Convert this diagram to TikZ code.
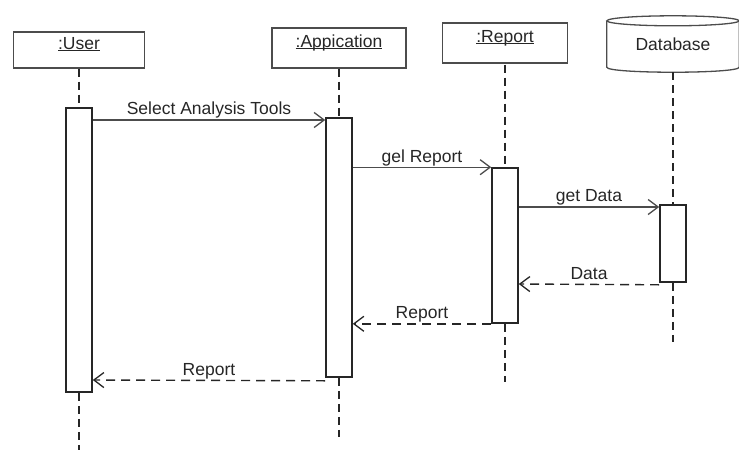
\documentclass[tikz,border=0pt]{standalone}
\usepackage{fontspec}
\setmainfont{Liberation Sans}
\usetikzlibrary{arrows.meta}
\begin{document}
\begin{tikzpicture}[x=1pt,y=-1pt,
  font=\fontsize{17.5}{20}\selectfont,
  every node/.style={text=black!85},
  obj/.style={draw=black!70, line width=1.3pt, inner sep=0pt},
  act/.style={draw=black!85, fill=white, line width=1.6pt, minimum width=26pt, inner sep=0pt},
  life/.style={draw=black!85, line width=2pt, dash pattern=on 8pt off 5pt},
  call/.style={draw=black!70, line width=1.1pt,
    -{Straight Barb[length=10pt,width=15pt,line width=1.3pt]}},
  reply/.style={call, draw=black!85, line width=1.4pt, dash pattern=on 9pt off 6pt},
  lbl/.style={midway, anchor=south, inner sep=0pt, yshift=1pt,
    text height=12.5pt, text depth=3.5pt}
]
\useasboundingbox (0,0) rectangle (739,450);

% participants
\node[obj, minimum width=131pt, minimum height=36pt] (user) at (79,50)
  {\underline{\smash{:User}}};
\node[obj, minimum width=134pt, minimum height=40pt] (app) at (339,48)
  {\underline{\smash{:Appication}}};
\node[obj, minimum width=125pt, minimum height=40pt] (rep) at (505,43)
  {\underline{\smash{:Report}}};
\node[inner sep=0pt, minimum width=132pt, minimum height=46pt] (db) at (673,44) {Database};
\draw[obj] (db.north west) -- (db.south west)
  .. controls ([yshift=-6.7pt]db.south west) and ([yshift=-6.7pt]db.south east) .. (db.south east)
  -- (db.north east);
\draw[obj] (db.north) ellipse [x radius=66pt, y radius=5pt];

% activation bars
\node[act, minimum height=284pt] (uact) at (79,250) {};
\node[act, minimum height=259pt] (aact) at (339,247.5) {};
\node[act, minimum height=155pt] (ract) at (505,245.5) {};
\node[act, minimum height=77pt]  (dact) at (673,243.5) {};

% lifeline ends
\coordinate (uend) at (79,450);
\coordinate (aend) at (339,437);
\coordinate (rend) at (505,382);
\coordinate (dend) at (673,342);

% lifelines
\draw[life] (user.south) -- (uact.north);
\draw[life] (uact.south) -- (uend);
\draw[life] (app.south) -- (aact.north);
\draw[life] (aact.south) -- (aend);
\draw[life] ([yshift=-1pt]rep.south) -- (ract.north);
\draw[life] (ract.south) -- (rend);
\draw[life] ([yshift=-5pt]db.south) -- (dact.north);
\draw[life] (dact.south) -- (dend);

% messages
\draw[call] (uact.east |- 0,120) -- (aact.west |- 0,120)
  node[lbl] {Select Analysis Tools};
\draw[call] (aact.east |- ract.north) -- (ract.north west)
  node[lbl] {gel Report};
\draw[call] (ract.east |- 0,207) -- (dact.west |- 0,207)
  node[lbl] {get Data};
\draw[reply] ([yshift=-2pt]dact.south west) -- (ract.east |- 0,284)
  node[lbl] {Data};
\draw[reply] (ract.south west) -- (aact.east |- ract.south)
  node[lbl] {Report};
\draw[reply] ([yshift=-3pt]aact.south west) -- (uact.east |- 0,380)
  node[lbl] {Report};
\end{tikzpicture}
\end{document}
